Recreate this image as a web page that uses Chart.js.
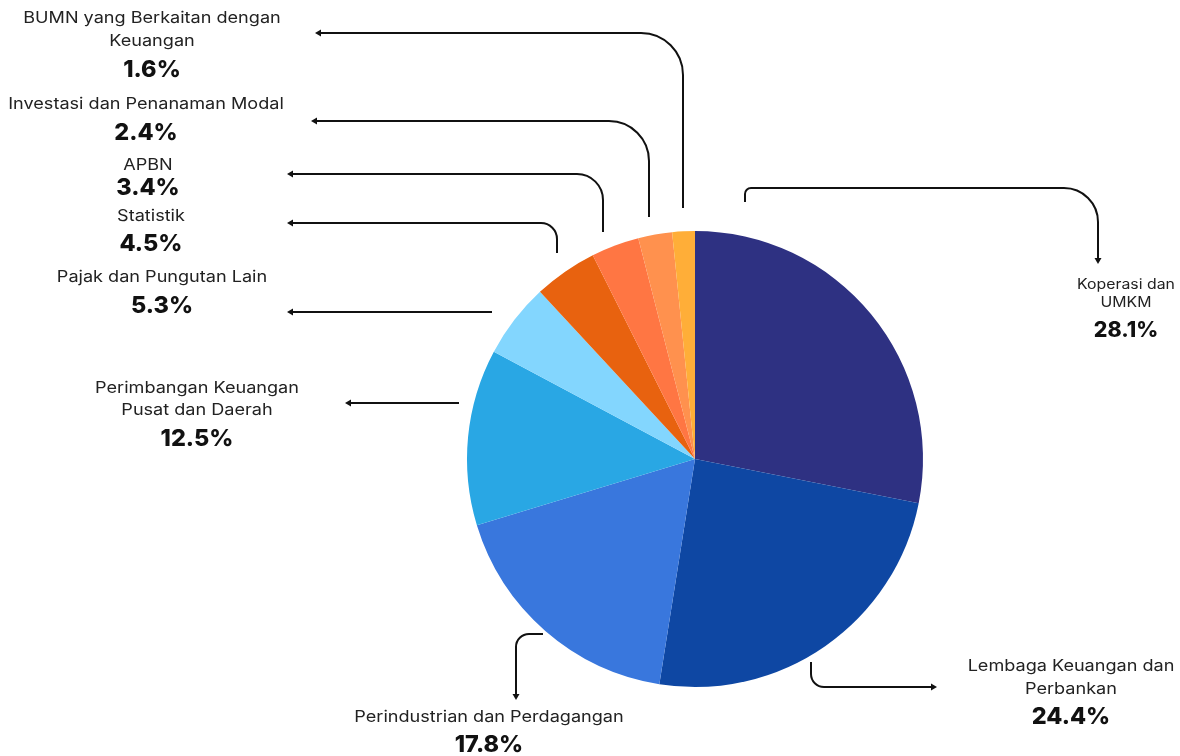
<!DOCTYPE html>
<html>
<head>
<meta charset="utf-8">
<script src="https://cdn.jsdelivr.net/npm/chart.js@4.4.1/dist/chart.umd.min.js"></script>
<style>
  html, body { margin: 0; padding: 0; background: #ffffff; }
  #wrap { width: 1180px; height: 756px; position: relative; }
</style>
</head>
<body>
<div id="wrap"><canvas id="c" width="1180" height="756"></canvas></div>
<script>
// ---- DATA ----
const categories = [
  ["Koperasi dan", "UMKM"],
  ["Lembaga Keuangan dan", "Perbankan"],
  ["Perindustrian dan Perdagangan"],
  ["Perimbangan Keuangan", "Pusat dan Daerah"],
  ["Pajak dan Pungutan Lain"],
  ["Statistik"],
  ["APBN"],
  ["Investasi dan Penanaman Modal"],
  ["BUMN yang Berkaitan dengan", "Keuangan"]
];
const values = [28.1, 24.4, 17.8, 12.5, 5.3, 4.5, 3.4, 2.4, 1.6];
const colors = ["#2E3182", "#0E47A3", "#3977DD", "#29A7E4", "#83D6FE", "#E8620F", "#FF7643", "#FF914E", "#FFAE38"];

// ---- LAYOUT (offsets relative to pie centre) ----
const layout = [
  { path: [[50,-257],[50,-271],[403,-271],[403,-195]], r: [6, 34], text: { cx: 431, ys: [-174,-156], py: -128, fs: 14, pfs: 21 } },
  { path: [[116,203],[116,228],[242,228]], r: [13], text: { cx: 376, ys: [207,230], py: 258, fs: 16, pfs: 23 } },
  { path: [[-152,175],[-179,175],[-179,241]], r: [13], text: { cx: -206, ys: [258], py: 286, fs: 16, pfs: 23 } },
  { path: [[-236,-56],[-350,-56]], r: [], text: { cx: -498, ys: [-71,-49], py: -20, fs: 16, pfs: 23 } },
  { path: [[-203,-147],[-408,-147]], r: [], text: { cx: -533, ys: [-182], py: -153, fs: 16, pfs: 23 } },
  { path: [[-138,-206],[-138,-236],[-408,-236]], r: [16], text: { cx: -544, ys: [-243], py: -215, fs: 16, pfs: 23 } },
  { path: [[-92,-227],[-92,-285],[-408,-285]], r: [26], text: { cx: -547, ys: [-294], py: -271, fs: 16, pfs: 23 } },
  { path: [[-46,-242],[-46,-338],[-384,-338]], r: [40], text: { cx: -549, ys: [-355], py: -326, fs: 16, pfs: 23 } },
  { path: [[-12,-251],[-12,-426],[-380,-426]], r: [42], text: { cx: -543, ys: [-441,-418], py: -389, fs: 16, pfs: 23 } }
];

const FONT = "Inter, 'Open Sans', 'DejaVu Sans', sans-serif";
const TEXT_STRETCH = 1.13;
const PCT_STRETCH = 1.02;

function drawConnector(ctx, pts, radii) {
  ctx.beginPath();
  ctx.moveTo(pts[0][0], pts[0][1]);
  for (let i = 1; i < pts.length - 1; i++) {
    ctx.arcTo(pts[i][0], pts[i][1], pts[i+1][0], pts[i+1][1], radii[i-1] || 0);
  }
  const last = pts[pts.length - 1];
  const prev = pts[pts.length - 2];
  const ang = Math.atan2(last[1] - prev[1], last[0] - prev[0]);
  const L = 6;
  ctx.lineTo(last[0] - Math.cos(ang) * L, last[1] - Math.sin(ang) * L);
  ctx.stroke();
  const w = 3.5;
  ctx.beginPath();
  ctx.moveTo(last[0], last[1]);
  const bx = last[0] - Math.cos(ang) * L, by = last[1] - Math.sin(ang) * L;
  ctx.lineTo(bx - Math.sin(ang) * w, by + Math.cos(ang) * w);
  ctx.lineTo(bx + Math.sin(ang) * w, by - Math.cos(ang) * w);
  ctx.closePath();
  ctx.fill();
}

function stretchedText(ctx, str, x, y, sx) {
  ctx.save();
  ctx.translate(x, y);
  ctx.scale(sx, 1);
  ctx.fillText(str, 0, 0);
  ctx.restore();
}

const labelPlugin = {
  id: 'labelPlugin',
  afterDraw(chart) {
    const ctx = chart.ctx;
    const meta = chart.getDatasetMeta(0);
    const arc0 = meta.data[0];
    const cx = arc0.x, cy = arc0.y;
    ctx.save();
    ctx.strokeStyle = "#111111";
    ctx.lineWidth = 2;
    ctx.lineCap = "butt";
    layout.forEach((lay, i) => {
      const pts = lay.path.map(p => [cx + p[0], cy + p[1]]);
      ctx.fillStyle = "#111111";
      drawConnector(ctx, pts, lay.r);
      const t = lay.text;
      ctx.textAlign = "center";
      ctx.textBaseline = "middle";
      ctx.fillStyle = "#222222";
      ctx.font = "400 " + t.fs + "px " + FONT;
      categories[i].forEach((line, k) => {
        stretchedText(ctx, line, cx + t.cx, cy + t.ys[k], TEXT_STRETCH);
      });
      ctx.fillStyle = "#111111";
      ctx.font = "800 " + t.pfs + "px " + FONT;
      stretchedText(ctx, values[i].toFixed(1) + "%", cx + t.cx, cy + t.py, PCT_STRETCH);
    });
    ctx.restore();
  }
};

new Chart(document.getElementById('c'), {
  type: 'pie',
  data: {
    labels: categories.map(c => c.join(' ')),
    datasets: [{
      data: values,
      backgroundColor: colors,
      borderWidth: 0
    }]
  },
  options: {
    responsive: false,
    animation: false,
    layout: { padding: { left: 467, right: 257, top: 231, bottom: 69 } },
    plugins: { legend: { display: false }, tooltip: { enabled: false } }
  },
  plugins: [labelPlugin]
});
</script>
</body>
</html>
